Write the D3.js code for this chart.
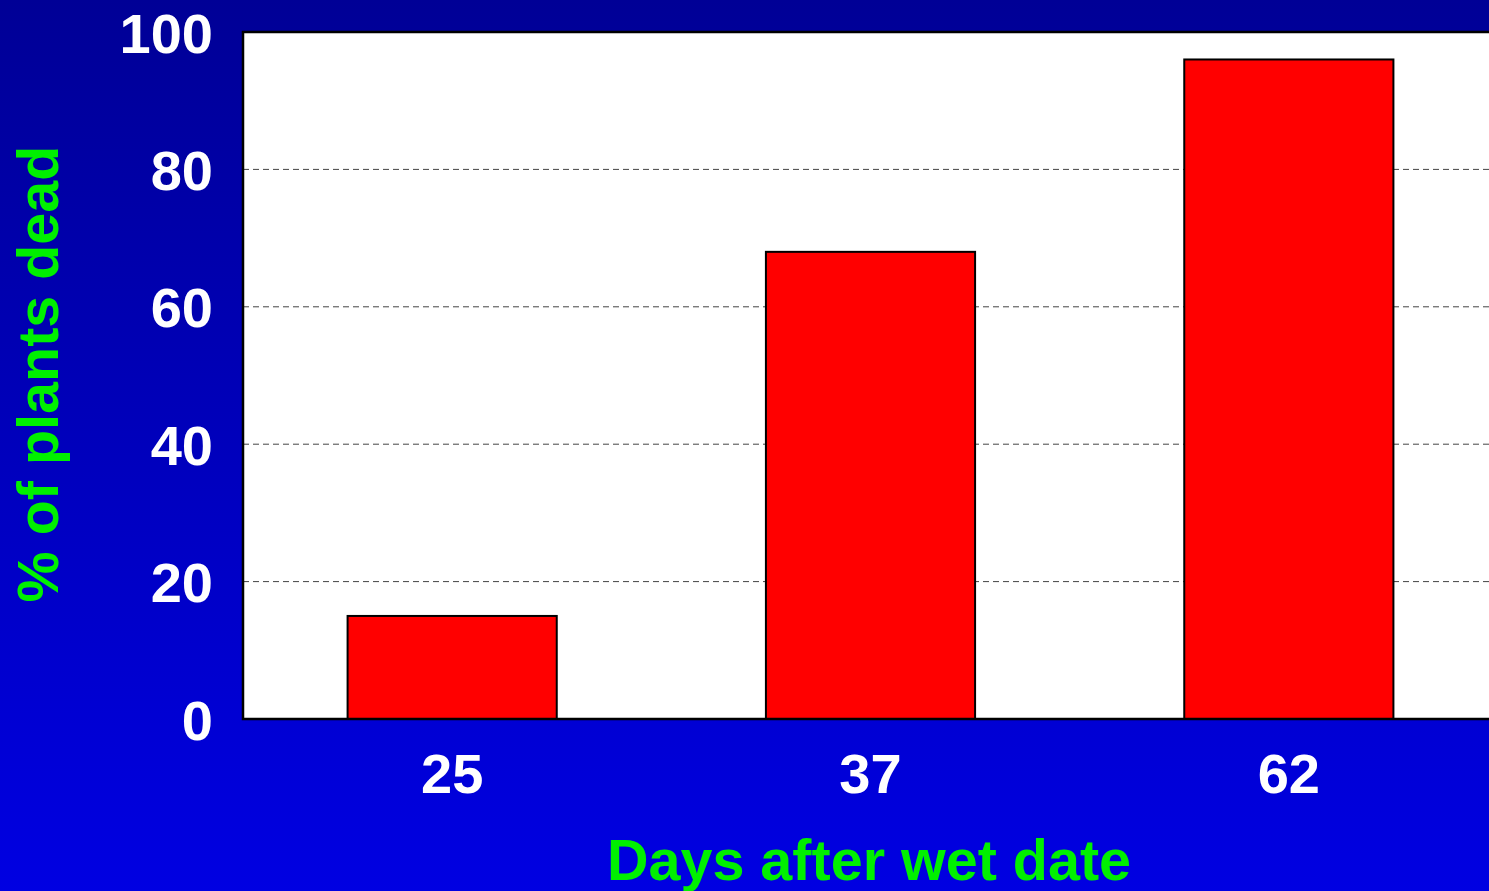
<!DOCTYPE html>
<html>
<head>
<meta charset="utf-8">
<script src="https://cdn.jsdelivr.net/npm/d3@7"></script>
<style>
  html, body { margin: 0; padding: 0; overflow: hidden; }
  text { font-family: "Liberation Sans", Arial, sans-serif; font-weight: bold; }
</style>
</head>
<body>
<svg id="chart" width="1489" height="891"></svg>
<script>
// Data
const days = ["25", "37", "62"];
const pct_dead = [15, 68, 96];
const y_ticks = [0, 20, 40, 60, 80, 100];

const svg = d3.select('#chart');
const width = 1489, height = 891;

// Background gradient, dark navy on top to bright blue at bottom
const grad = svg.append('defs').append('linearGradient')
    .attr('id', 'bg').attr('x1', 0).attr('y1', 0).attr('x2', 0).attr('y2', 1);
grad.append('stop').attr('offset', '0%').attr('stop-color', '#000096');
grad.append('stop').attr('offset', '100%').attr('stop-color', '#0000e2');
svg.append('rect').attr('width', width).attr('height', height).attr('fill', 'url(#bg)');

// Plot area (right edge runs off the page)
const plot_left = 243, plot_top = 32, plot_right = 1498, plot_bottom = 719;

const x_scale = d3.scaleBand()
    .domain(days)
    .range([plot_left, plot_right])
    .paddingInner(0.5)
    .paddingOuter(0.25);
const y_scale = d3.scaleLinear()
    .domain([0, 100])
    .range([plot_bottom, plot_top]);

svg.append('rect')
    .attr('x', plot_left).attr('y', plot_top)
    .attr('width', plot_right - plot_left).attr('height', plot_bottom - plot_top)
    .attr('fill', '#fff');

// Dashed gridlines
svg.append('g')
    .selectAll('line')
    .data(y_ticks.filter(d => d > 0 && d < 100))
    .enter()
    .append('line')
    .attr('x1', plot_left).attr('x2', plot_right)
    .attr('y1', d => y_scale(d)).attr('y2', d => y_scale(d))
    .attr('stroke', '#444')
    .attr('stroke-width', 1)
    .attr('stroke-dasharray', '6,4');

// Bars
svg.append('g')
    .selectAll('rect')
    .data(pct_dead)
    .enter()
    .append('rect')
    .attr('x', (d, i) => x_scale(days[i]))
    .attr('y', d => y_scale(d))
    .attr('width', x_scale.bandwidth())
    .attr('height', d => plot_bottom - y_scale(d))
    .attr('fill', '#ff0000')
    .attr('stroke', '#000')
    .attr('stroke-width', 2);

// Frame: top, left and bottom lines
svg.append('path')
    .attr('d', `M${plot_right},${plot_top}H${plot_left}V${plot_bottom}H${plot_right}`)
    .attr('fill', 'none')
    .attr('stroke', '#000')
    .attr('stroke-width', 2.5);

// Axes
const y_axis = d3.axisLeft(y_scale).tickValues(y_ticks).tickSize(0).tickPadding(30);
svg.append('g')
    .attr('transform', 'translate(' + plot_left + ',0)')
    .call(y_axis)
    .call(g => g.select('.domain').remove())
    .selectAll('text')
    .attr('fill', '#fff')
    .style('font-size', '56px')
    .attr('dy', '0.36em');

const x_axis = d3.axisBottom(x_scale).tickSize(0).tickPadding(34);
svg.append('g')
    .attr('transform', 'translate(0,' + plot_bottom + ')')
    .call(x_axis)
    .call(g => g.select('.domain').remove())
    .selectAll('text')
    .attr('fill', '#fff')
    .style('font-size', '56px');

// Axis titles
svg.append('text')
    .attr('x', 869)
    .attr('y', 880)
    .attr('text-anchor', 'middle')
    .attr('fill', '#00f000')
    .style('font-size', '57.5px')
    .text('Days after wet date');

svg.append('text')
    .attr('transform', 'translate(58,374) rotate(-90)')
    .attr('text-anchor', 'middle')
    .attr('fill', '#00f000')
    .style('font-size', '57.5px')
    .text('% of plants dead');
</script>
</body>
</html>
